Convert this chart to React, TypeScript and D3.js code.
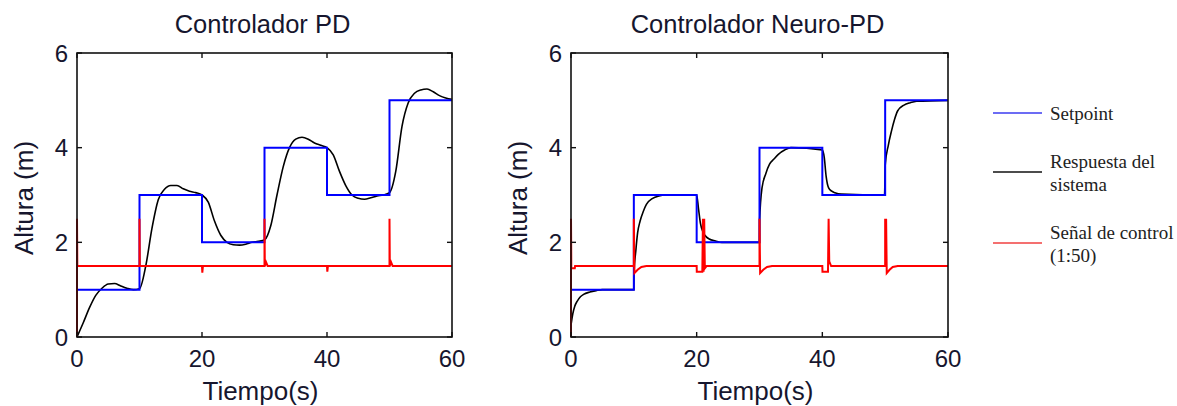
import React from 'react';
import * as d3 from 'd3';

// setpoint: step levels between the switch times
const stepTimes = [0, 10, 20, 30, 40, 50, 60];
const setpointLevels = [1, 3, 2, 4, 3, 5, 5];

// PD response (m)
const pdT = [0, 1, 2, 3, 4, 5, 6, 7, 8, 9, 10, 11, 12, 13, 14, 15, 16, 17, 18, 19, 20,
  21, 22, 23, 24, 25, 26, 27, 28, 29, 30, 31, 32, 33, 34, 35, 36, 37, 38, 39, 40,
  41, 42, 43, 44, 45, 46, 47, 48, 49, 50, 51, 52, 53, 54, 55, 56, 57, 58, 59, 60];
const pdY = [0, 0.3, 0.62, 0.88, 1.03, 1.12, 1.13, 1.08, 1.03, 1.0, 1.02, 1.5, 2.3, 2.9, 3.12, 3.2, 3.2, 3.13, 3.08, 3.05, 3.0,
  2.85, 2.45, 2.15, 2.0, 1.95, 1.94, 1.96, 2.0, 2.02, 2.05, 2.35, 3.0, 3.6, 4.0, 4.18, 4.22, 4.18, 4.1, 4.05, 4.0,
  3.85, 3.5, 3.2, 3.0, 2.93, 2.91, 2.94, 2.98, 3.0, 3.05, 3.5, 4.45, 4.95, 5.15, 5.22, 5.24, 5.18, 5.1, 5.05, 5.02];

// PD control signal (scaled 1:50)
const pdCtrlT = [0, 0, 0.05, 10, 10, 10.05, 20, 20.05, 20.15, 30, 30, 30.05, 30.25, 30.5, 40, 40.05, 40.15, 50, 50, 50.05, 50.25, 50.5, 60];
const pdCtrlU = [0, 2.5, 1.5, 1.5, 2.5, 1.5, 1.5, 1.36, 1.5, 1.5, 2.5, 1.5, 1.58, 1.5, 1.5, 1.38, 1.5, 1.5, 2.5, 1.5, 1.58, 1.5, 1.5];

// Neuro-PD response (m)
const npdT = [0, 0.3, 0.6, 1, 1.5, 2, 3, 4, 5, 10, 10.02, 10.3, 10.6, 11, 11.5, 12, 13, 14, 15, 20, 20.3, 20.6, 21, 21.5, 22, 23, 24,
  30, 30.02, 30.4, 31, 31.6, 32.3, 33, 34, 35, 40, 40.3, 40.6, 41, 41.5, 42, 43, 49.9, 50.02, 50.5, 51, 51.5, 52, 53, 54, 55, 60];
const npdY = [0.25, 0.5, 0.65, 0.76, 0.85, 0.9, 0.95, 0.98, 1.0, 1.0, 1.35, 1.8, 2.2, 2.45, 2.65, 2.8, 2.93, 2.98, 3.0, 3.0, 2.7, 2.4, 2.22, 2.12, 2.07, 2.03, 2.0,
  2.0, 2.47, 3.15, 3.45, 3.65, 3.76, 3.86, 3.95, 4.0, 3.95, 3.8, 3.4, 3.15, 3.08, 3.05, 3.02, 3.0, 3.65, 4.05, 4.35, 4.6, 4.78, 4.9, 4.95, 4.98, 5.0];

// Neuro-PD control signal (scaled 1:50)
const npdCtrlT = [0, 0, 0.05, 0.6, 0.65, 10, 10, 10.1, 10.6, 11.2, 12, 20, 20.02, 20.9, 21.0, 21.1, 21.2, 21.3, 21.6,
  30, 30, 30.1, 30.6, 31.2, 32, 40, 40.02, 40.9, 41.0, 41.1, 41.4, 50, 50, 50.1, 50.15, 50.25, 50.7, 51.2, 52, 60];
const npdCtrlU = [0, 2.5, 1.45, 1.45, 1.5, 1.5, 2.5, 1.35, 1.42, 1.48, 1.5, 1.5, 1.38, 1.38, 2.5, 1.38, 2.5, 1.45, 1.5,
  1.5, 2.5, 1.35, 1.42, 1.48, 1.5, 1.5, 1.38, 1.38, 2.5, 1.6, 1.5, 1.5, 2.5, 1.6, 2.5, 1.35, 1.42, 1.48, 1.5, 1.5];

const xTicks = [0, 20, 40, 60];
const yTicks = [0, 2, 4, 6];

const legendItems = [
  { color: '#3b3bf0', lines: ['Setpoint'] },
  { color: '#111', lines: ['Respuesta del', 'sistema'] },
  { color: '#f04040', lines: ['Señal de control', '(1:50)'] },
];

const sans = '"Liberation Sans", Arial, sans-serif';
const serif = '"Liberation Serif", "Times New Roman", serif';
const labelColor = '#16162e';

const zip = (t: number[], v: number[]) => t.map((d, i) => [d, v[i]] as [number, number]);

const panels = [
  { title: 'Controlador PD', left: 77, right: 452, resp: zip(pdT, pdY), ctrl: zip(pdCtrlT, pdCtrlU) },
  { title: 'Controlador Neuro-PD', left: 571, right: 948, resp: zip(npdT, npdY), ctrl: zip(npdCtrlT, npdCtrlU) },
];

const top = 53, bottom = 337;

function Panel({ p }: { p: typeof panels[0] }) {
  const x = d3.scaleLinear().domain([0, 60]).range([p.left, p.right]);
  const y = d3.scaleLinear().domain([0, 6]).range([bottom, top]);
  const sp = d3.line<[number, number]>().x(d => x(d[0])).y(d => y(d[1])).curve(d3.curveStepAfter)(zip(stepTimes, setpointLevels));
  const resp = d3.line<[number, number]>().x(d => x(d[0])).y(d => y(d[1])).curve(d3.curveMonotoneX)(p.resp);
  const ctrl = d3.line<[number, number]>().x(d => x(d[0])).y(d => y(d[1]))(p.ctrl);
  const cx = (p.left + p.right) / 2;
  const tl = 5;
  return (
    <g>
      <text x={cx - 2} y={33} textAnchor="middle" fontFamily={sans} fontSize={25.5} fill={labelColor}>{p.title}</text>
      <path d={resp!} fill="none" stroke="#000" strokeWidth={1.6} />
      <path d={sp!} fill="none" stroke="#0000ff" strokeWidth={2} />
      <path d={ctrl!} fill="none" stroke="#ff0000" strokeWidth={2} />
      <rect x={p.left} y={top} width={p.right - p.left} height={bottom - top} fill="none" stroke="#111" strokeWidth={1.6} />
      {xTicks.map(t => (
        <g key={'x' + t}>
          <line x1={x(t)} x2={x(t)} y1={bottom} y2={bottom - tl} stroke="#111" strokeWidth={1.4} />
          <line x1={x(t)} x2={x(t)} y1={top} y2={top + tl} stroke="#111" strokeWidth={1.4} />
          <text x={x(t)} y={367} textAnchor="middle" fontFamily={sans} fontSize={24} fill={labelColor}>{t}</text>
        </g>
      ))}
      {yTicks.map(t => (
        <g key={'y' + t}>
          <line x1={p.left} x2={p.left + tl} y1={y(t)} y2={y(t)} stroke="#111" strokeWidth={1.4} />
          <line x1={p.right} x2={p.right - tl} y1={y(t)} y2={y(t)} stroke="#111" strokeWidth={1.4} />
          <text x={p.left - 9} y={y(t)} dy="0.36em" textAnchor="end" fontFamily={sans} fontSize={24} fill={labelColor}>{t}</text>
        </g>
      ))}
      <text x={cx - 4} y={400} textAnchor="middle" fontFamily={sans} fontSize={26} fill={labelColor}>Tiempo(s)</text>
      <text transform={`translate(${p.left - 44},${198}) rotate(-90)`} textAnchor="middle" fontFamily={sans} fontSize={26} fill={labelColor}>Altura (m)</text>
    </g>
  );
}

export default function App() {
  const legendY = [113, 172, 243];
  return (
    <svg width={1177} height={406} style={{ position: 'absolute', left: 0, top: 0, background: '#fff' }}>
      {panels.map(p => <Panel key={p.title} p={p} />)}
      {legendItems.map((it, i) => (
        <g key={i}>
          <line x1={993} x2={1042} y1={legendY[i]} y2={legendY[i]} stroke={it.color} strokeWidth={1.5} />
          {it.lines.map((s, j) => (
            <text key={j} x={1050} y={legendY[i] + (it.lines.length === 1 ? 7 : -4) + j * 23} fontFamily={serif} fontSize={19} fill="#222">{s}</text>
          ))}
        </g>
      ))}
    </svg>
  );
}
